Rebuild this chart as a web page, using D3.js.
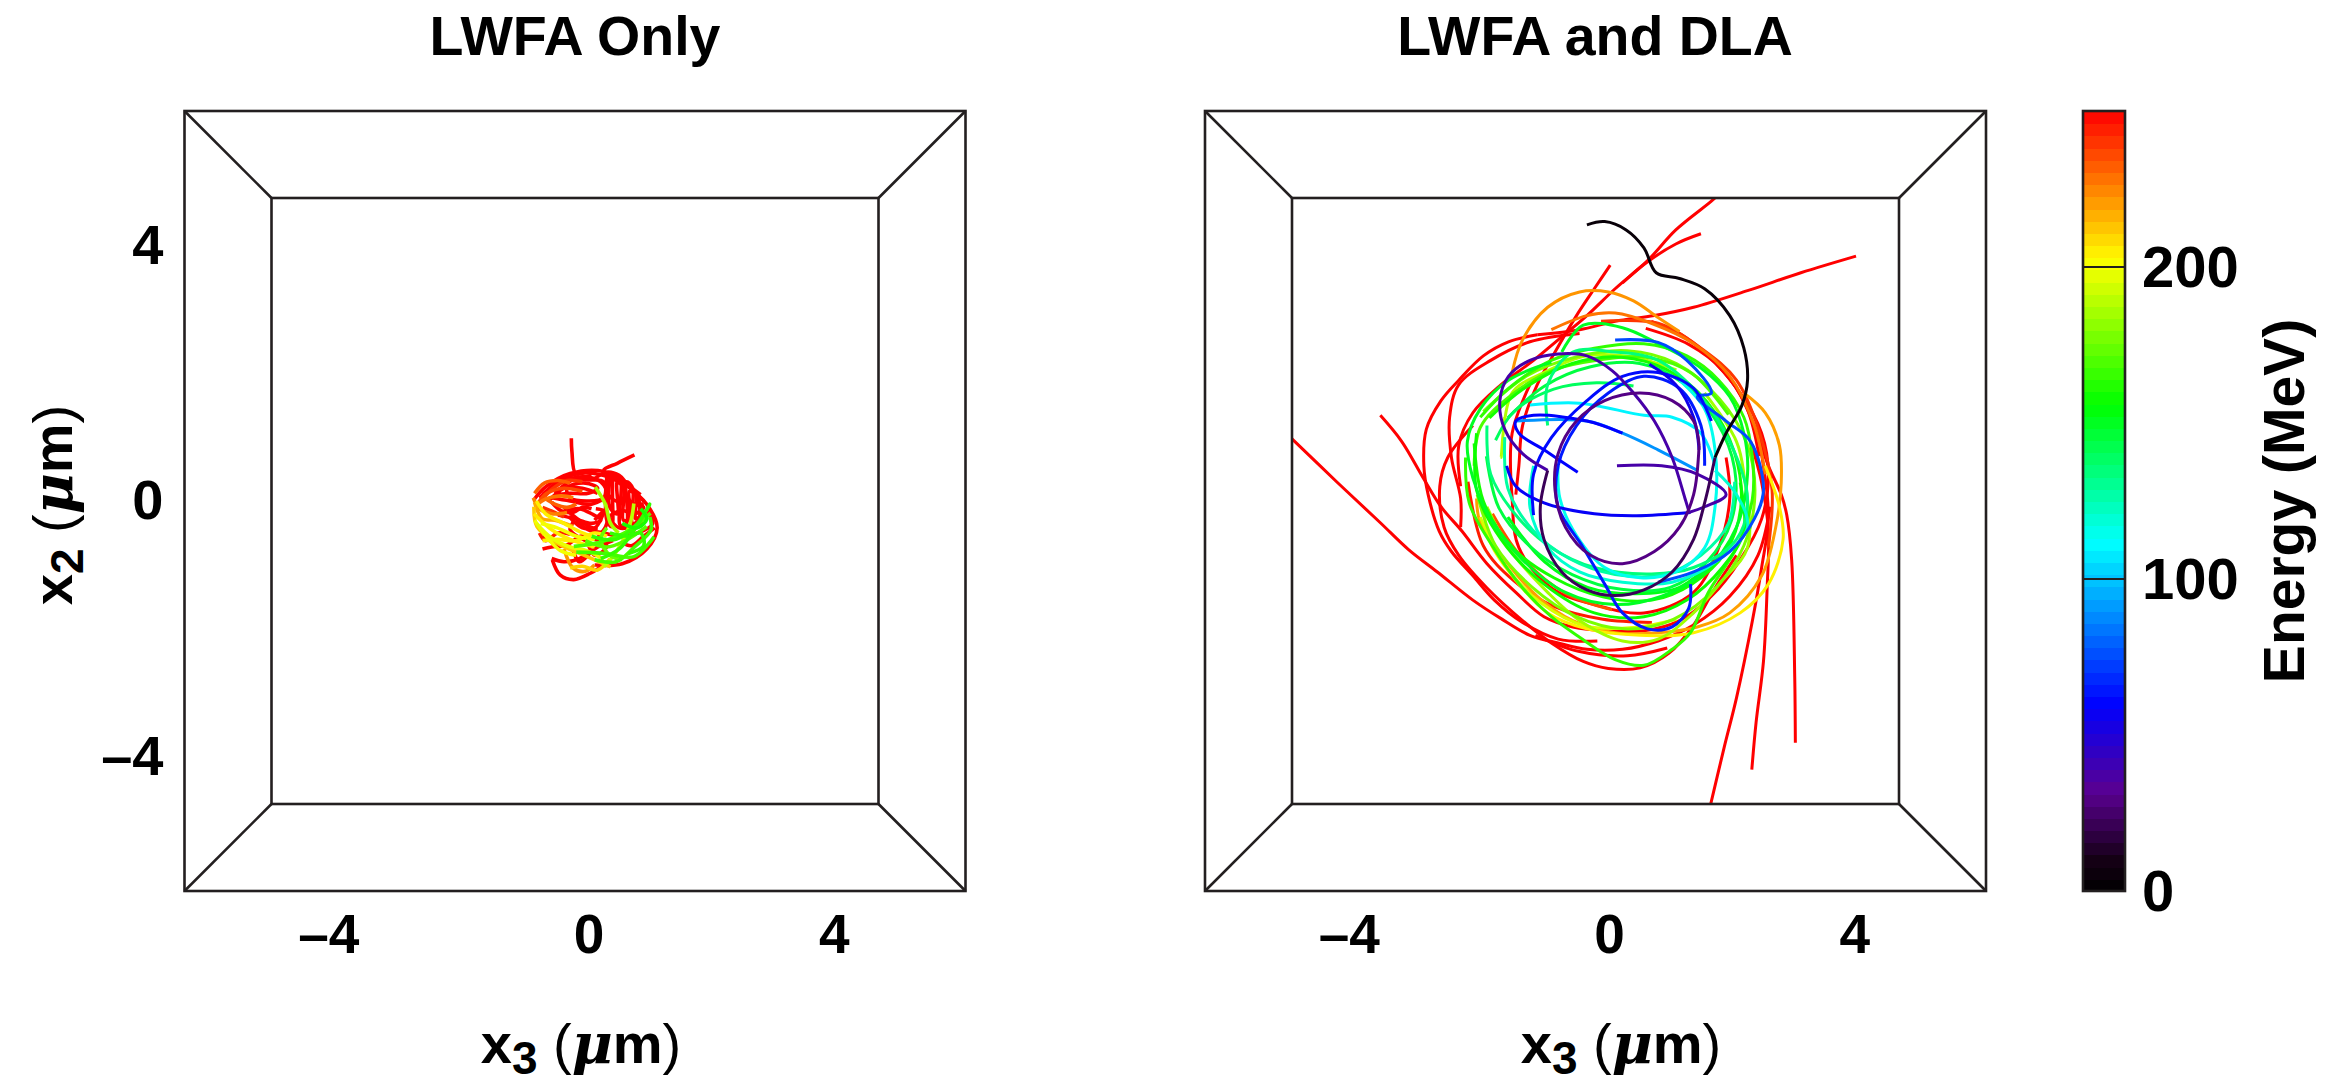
<!DOCTYPE html>
<html>
<head>
<meta charset="utf-8">
<script src="https://cdn.jsdelivr.net/npm/d3@7"></script>
<style>
  html, body { margin: 0; background: #fff; }
  text { font-family: "Liberation Sans", Arial, sans-serif; font-weight: bold; fill: #000; }
</style>
</head>
<body>
<div id="chart"></div>
<script>
var svgWidth = 2329;
var svgHeight = 1083;

// tick labels
var xTicks = [-4, 0, 4];
var yTicks = [4, 0, -4];
var energyTicks = [0, 100, 200];
var panelTitles = ["LWFA Only", "LWFA and DLA"];

// energy (MeV) of each trajectory piece, and its points as [x3, x2] in um
var leftEnergy = [250, 250, 250, 250, 250, 250, 250, 250, 250, 250, 236, 228, 222, 212, 205, 205, 200, 170, 168, 165, 186, 190, 200, 240,
  250, 250, 250, 250, 250, 250, 250, 250, 250, 250, 250, 232, 226, 218, 210, 198, 205, 172, 168, 165, 160, 175, 250, 245, 232, 250, 240];
var leftPoints = [
  [[-.28,.98],[-.27,.77],[-.21,.43],[-.05,.45]],
  [[.75,.72],[.47,.59],[.25,.48],[.55,.3],[.95,-.05],[1.12,-.42],[.95,-.75],[.55,-.98],[.1,-1.0]],
  [[-.89,.02],[-.7,.22],[-.3,.43],[.25,.46],[.6,.26],[.9,.0]],
  [[.3,.4],[.3,-.3],[.38,-.4],[.42,.4],[.52,.35],[.52,-.38],[.62,-.35],[.62,.3],[.72,.2],[.72,-.35],[.82,-.3],[.82,.05]],
  [[-.8,.05],[-.5,.27],[-.1,.38],[.2,.3],[.3,.1],[.05,-.05],[-.3,.0],[-.6,.05]],
  [[-.65,.0],[-.4,.2],[-.05,.28],[.15,.2],[.0,.12],[-.3,.12],[-.5,.1]],
  [[-.2,-.3],[.0,-.45],[.25,-.5],[.5,-.55],[.8,-.5],[1.05,-.35],[.95,-.15]],
  [[-.75,-.55],[-.4,-.7],[-.1,-.55],[.1,-.85],[.3,-.7],[.1,-.6]],
  [[-.4,-.1],[-.15,-.3],[.1,-.42],[.25,-.15],[.1,-.3]],
  [[-.59,-.92],[-.46,-1.16],[-.24,-1.23],[.03,-1.13],[.30,-.97]],
  [[-.82,-.03],[-.68,.12],[-.4,.2],[-.1,.15]],
  [[-.86,-.08],[-.72,.02],[-.45,.08],[-.25,.05]],
  [[-.4,-.75],[-.25,-1.05],[-.05,-1.1],[.1,-1.0]],
  [[-.89,-.09],[-.84,-.4],[-.51,-.66],[-.02,-.87],[.36,-1.03]],
  [[-.85,.0],[-.7,-.2],[-.4,-.35],[-.1,-.5],[.05,-.55]],
  [[-.89,-.2],[-.6,-.45],[-.3,-.6],[.1,-.72]],
  [[-.88,-.3],[-.65,-.6],[-.45,-.78],[-.2,-.85]],
  [[-.24,-.71],[.2,-.64],[.68,-.45],[1.01,-.19]],
  [[-.2,-.8],[.28,-.82],[.74,-.87],[1.07,-.56]],
  [[.05,-.55],[.45,-.6],[.8,-.35],[1.0,-.05],[.85,-.3],[.5,-.75],[.2,-.9]],
  [[.11,.22],[.27,-.04],[.36,-.35],[.49,-.5]],
  [[.74,-.04],[.68,-.35],[.47,-.77],[.25,-1.03]],
  [[-.78,-.35],[-.51,-.42],[-.2,-.55],[.1,-.6]],
  [[-.8,-.02],[-.6,.18],[-.35,.32],[-.1,.3]],
  [[-.75,.1],[-.45,.33],[-.1,.44],[.25,.4],[.5,.3]],
  [[-.3,.35],[0,.33],[.25,.3],[.25,.05],[0,.0],[-.3,.05],[-.35,.2],[-.1,.2],[.15,.12]],
  [[.35,.35],[.35,-.1],[.47,-.2],[.47,.3],[.57,.2],[.57,-.3],[.67,-.28],[.67,.15],[.77,.1],[.77,-.28],[.87,-.2],[.87,-.02]],
  [[.32,.1],[.45,.0],[.6,.05],[.75,-.05],[.9,-.1],[.75,-.2],[.55,-.15],[.35,-.25],[.5,-.42],[.9,-.35]],
  [[-.35,-.15],[-.15,-.12],[.05,-.2],[.2,-.3],[.05,-.35],[-.15,-.3],[-.3,-.25],[-.1,-.42],[.15,-.42]],
  [[-.5,-.22],[-.25,-.3],[-.3,-.45],[-.05,-.62]],
  [[-.55,.12],[-.35,.28],[-.2,.35],[.05,.4]],
  [[.12,-.12],[.3,-.18],[.28,-.4],[.15,-.55]],
  [[-.75,-.75],[-.6,-.72],[-.3,-.72],[-.15,-.95],[.1,-.75],[.4,-.62]],
  [[-.6,-.9],[-.4,-.95],[-.15,-.9],[.05,-.75]],
  [[1.08,-.42],[.9,-.55],[.7,-.7],[.55,-.65]],
  [[-.88,.12],[-.72,.28],[-.5,.32],[-.3,.28]],
  [[-.9,.05],[-.8,-.12],[-.6,-.2],[-.35,-.18]],
  [[-.88,-.02],[-.75,-.28],[-.55,-.3],[-.25,-.4]],
  [[-.3,-1.05],[-.1,-1.02],[.15,-1.08],[.35,-.9]],
  [[-.85,-.35],[-.6,-.58],[-.3,-.72],[-.02,-.78],[.25,-.92]],
  [[-.75,-.62],[-.5,-.6],[-.2,-.62],[.1,-.5],[.3,-.55]],
  [[-.05,-.62],[.3,-.72],[.6,-.62],[.95,-.4]],
  [[.1,-.92],[.45,-.95],[.75,-.72],[1.02,-.45],[1.0,-.25]],
  [[.35,-.5],[.65,-.55],[.85,-.5],[.9,-.7],[.65,-.82]],
  [[.55,-.35],[.8,-.42],[.95,-.28],[.85,-.12]],
  [[.3,-.42],[.2,-.6],[.35,-.85],[.55,-.92]],
  [[.1,.35],[.3,.45],[.5,.4],[.65,.25],[.85,.1]],
  [[-.8,-.5],[-.7,-.62],[-.5,-.5],[-.3,-.52]],
  [[-.72,.05],[-.55,-.05],[-.35,-.1],[-.2,-.05]],
  [[-.6,-.02],[-.45,-.15],[-.25,-.18],[-.1,-.1],[.05,-.12]],
  [[-.75,-.1],[-.55,-.18],[-.4,-.25]]
];

var rightEnergy = [250, 250, 250, 250, 250, 250, 250, 250, 250, 250, 250, 250, 250, 240, 228, 222, 220, 205, 188, 185, 165, 158, 150, 135, 120, 115, 110, 90, 75, 65, 62, 60, 58, 55, 38, 30, 38, 22, 4,
  160, 145, 178, 128, 195, 245, 250, 250, 235, 170, 140, 152];
var rightPoints = [
  [[-5.2,1.0],[-4.43,.29],[-3.73,-.34],[-3.27,-.76],[-2.80,-1.11],[-2.22,-1.55],[-1.76,-1.84],[-1.29,-2.10],[-.83,-2.22],[-.36,-2.32],[.22,-2.32],[.80,-2.19],[1.38,-1.94],[1.97,-1.49],[2.43,-.85],[2.63,-.09]],
  [[-3.73,1.34],[-3.38,.93],[-3.03,.36],[-2.74,-.09],[-2.40,-.47],[-1.99,-.98],[-1.52,-1.43],[-1.06,-1.81],[-.59,-1.97],[-.01,-2.03],[.57,-2.03],[1.15,-1.87],[1.67,-1.49],[2.14,-.92],[2.49,-.28],[2.60,.42],[2.49,1.06],[2.14,1.69],[1.56,2.33],[1.15,2.62],[.69,2.81]],
  [[-1.17,2.60],[-1.64,2.49],[-2.05,2.27],[-2.45,1.89],[-2.74,1.57],[-2.98,1.12],[-3.02,.55],[-2.95,.10],[-2.77,-.47],[-2.57,-.79],[-2.22,-1.17],[-1.87,-1.55],[-1.41,-1.90],[-.83,-2.16],[-.19,-2.19]],
  [[-.48,2.62],[-1.29,2.49],[-1.93,2.20],[-2.45,1.82],[-2.60,1.31],[-2.57,.68],[-2.42,.04],[-2.42,-.41]],
  [[-2.22,1.18],[-2.63,.68],[-2.76,.23],[-2.69,-.41],[-2.45,-.85],[-1.99,-1.36],[-1.41,-1.87],[-.94,-2.22],[-.42,-2.51],[-.01,-2.62],[.51,-2.61],[.98,-2.38],[1.38,-1.94],[1.73,-1.36],[2.08,-.85]],
  [[1.85,4.85],[1.67,4.69],[1.09,4.24],[.63,3.76],[.10,3.32],[-.36,2.90],[-.83,2.52],[-1.23,2.20],[-1.76,1.82],[-2.22,1.38],[-2.45,.87],[-2.42,.23]],
  [[1.50,4.18],[1.09,4.02],[.57,3.70],[.22,3.41]],
  [[.02,3.69],[-.24,3.32],[-.53,2.90],[-.88,2.33],[-1.17,1.82],[-1.41,1.18],[-1.47,.55],[-1.52,.10]],
  [[4.03,3.83],[3.13,3.57],[2.26,3.29],[1.38,3.03],[.74,2.90],[.10,2.81],[-.48,2.68],[-1.17,2.60]],
  [[3.04,-3.78],[3.03,-2.76],[2.98,-.92],[2.90,-.22],[2.81,.10],[2.60,.55],[2.37,1.18],[2.08,1.76],[1.56,2.33]],
  [[2.33,-4.20],[2.40,-3.46],[2.52,-2.51],[2.58,-1.36],[2.60,-.47],[2.49,.29],[2.31,.93]],
  [[1.62,-4.9],[1.88,-3.85],[2.08,-3.08],[2.34,-1.87],[2.49,-1.04],[2.60,-.22],[2.43,1.06]],
  [[-1.29,1.82],[-1.58,1.06],[-1.58,.04],[-1.47,-.73],[-.94,-1.36],[-.24,-1.62],[.57,-1.75],[1.38,-1.43],[1.79,-.73],[1.97,.04],[1.91,.68]],
  [[-.13,2.81],[.80,2.78],[1.50,2.39],[2.08,1.89],[2.46,1.06],[2.66,.17],[2.60,-.73]],
  [[-.94,2.68],[-.36,2.90],[.10,2.94],[.69,2.78],[1.38,2.46],[1.97,1.95],[2.37,1.18],[2.55,.42]],
  [[-1.58,2.01],[-1.41,2.52],[-1.0,3.03],[-.48,3.27],[-.01,3.27],[.40,3.13],[.80,2.87],[1.15,2.65]],
  [[2.20,1.69],[2.55,1.38],[2.78,.87],[2.81,.29],[2.72,-.41],[2.49,-1.17],[1.97,-1.75],[1.44,-1.97],[.80,-2.06],[.10,-2.06],[-.59,-1.87],[-1.17,-1.49],[-1.70,-.92],[-2.10,-.34],[-2.16,.04]],
  [[2.55,.55],[2.78,-.09],[2.84,-.60],[2.60,-1.30],[2.14,-1.75],[1.38,-2.06],[.51,-2.10],[-.36,-2.0],[-1.0,-1.75],[-1.52,-1.24],[-1.93,-.66],[-2.05,-.09]],
  [[-1.70,1.31],[-1.76,.68],[-1.58,1.69],[-1.06,2.01],[-.36,2.27],[.40,2.25],[1.10,2.05]],
  [[-1.99,-.09],[-1.64,-.73],[-1.0,-1.43],[-.48,-1.87],[.22,-2.19],[.80,-2.16],[1.38,-1.75],[1.85,-1.24],[2.26,-.73],[2.20,.42],[2.08,.93],[1.56,1.69]],
  [[-2.34,.68],[-2.28,-.03],[-1.93,-.66],[-1.41,-1.36],[-.94,-1.81],[-.48,-2.13],[.10,-2.48],[.57,-2.57],[1.03,-2.32],[1.33,-2.06],[1.62,-1.43],[2.08,-.73],[2.34,.04],[2.34,.68],[2.20,1.31],[1.79,1.89],[1.27,2.27],[.57,2.46],[-.24,2.39],[-.94,2.20],[-1.64,1.76],[-2.10,1.31]],
  [[-2.16,1.06],[-2.16,.17],[-1.76,-.60],[-1.06,-1.30],[-.24,-1.75],[.57,-1.81],[1.27,-1.55],[1.85,-1.04],[2.20,-.47],[2.14,.29]],
  [[-.77,2.33],[-.42,2.75],[.22,2.71],[.80,2.46],[1.50,2.08],[1.97,1.63],[2.20,1.06],[2.26,.42],[2.08,-.41],[1.56,-1.11],[.86,-1.49],[.10,-1.62],[-.71,-1.43],[-1.41,-.92],[-1.93,-.28],[-2.22,.36],[-2.31,.93],[-2.10,1.44],[-1.64,1.89],[-.94,2.17]],
  [[-1.99,1.18],[-1.93,.42],[-1.52,-.22],[-.94,-.73],[-.24,-1.04],[.69,-1.14],[1.38,-1.04],[2.08,-.60],[2.26,.04],[1.97,.93],[1.50,1.63],[.80,2.20],[.10,2.33],[-.59,2.33],[-1.0,1.82],[-1.0,1.18]],
  [[-1.23,.55],[-1.29,-.09],[-1.0,-.73],[-.48,-1.11],[.22,-1.27],[1.03,-1.27],[1.79,-.92],[2.26,-.41],[2.08,.10],[1.73,.48]],
  [[-.83,.55],[-.80,.04],[-.53,-.54],[-.07,-1.04],[.51,-1.20],[1.09,-1.11],[1.56,-.73],[1.73,-.09],[1.73,.80],[1.56,1.44],[1.15,1.89]],
  [[-1.29,1.50],[-.48,1.53],[.57,1.34],[1.03,1.31],[1.50,1.06],[1.73,.55]],
  [[-1.52,1.25],[-.36,1.25],[.22,1.06],[.80,.80],[1.44,.48]],
  [[.10,2.52],[.80,2.48],[1.27,2.20],[1.67,1.69],[1.44,1.63],[1.91,1.25],[2.31,.93],[2.52,.17],[2.37,-.28],[1.97,-.79],[1.38,-1.11],[.80,-1.27]],
  [[1.33,-1.30],[1.30,-1.68],[1.03,-1.97],[.63,-2.0],[.22,-1.75],[-.07,-1.30],[-.42,-.73],[-.83,-.09],[-.83,.55],[-.53,1.18],[-.01,1.69],[.57,1.95],[1.15,1.76],[1.50,1.18],[1.56,.55]],
  [[-1.23,-.22],[-1.23,.42],[-.94,.99],[-.36,1.57],[.22,1.95],[.80,2.01],[1.38,1.76],[1.67,1.25]],
  [[-.51,.45],[-1.06,.80],[-1.47,1.06],[-1.52,1.25],[-1.23,1.34],[-.36,1.25],[.22,1.06]],
  [[-1.67,.55],[-1.52,.23],[-1.06,-.03],[-.24,-.20],[.45,-.23],[1.33,-.18]],
  [[.66,2.14],[1.09,1.82],[1.38,1.31],[1.47,.80]],
  [[.13,.55],[.86,.55],[1.44,.42],[1.91,.10],[1.56,-.09],[1.30,-.18]],
  [[1.47,.87],[1.38,1.25],[1.03,1.57],[.51,1.69],[-.07,1.57],[-.53,1.25],[-.83,.74],[-.88,.17],[-.71,-.41],[-.30,-.85],[.22,-.98],[.74,-.79],[1.15,-.41],[1.38,.10],[1.47,.87]],
  [[-1.0,.48],[-1.41,.74],[-1.70,1.12],[-1.78,1.57],[-1.64,1.95],[-1.29,2.20],[-.83,2.30],[-.36,2.27],[.05,2.04],[.40,1.69],[.74,1.25],[1.03,.68],[1.24,.04],[1.30,-.15]],
  [[1.73,.68],[1.56,-.03],[1.38,-.60],[1.03,-1.11],[.57,-1.39],[.10,-1.48],[-.36,-1.39],[-.77,-1.11],[-1.06,-.60],[-1.12,-.09],[-1.0,.48]],
  [[-.36,4.32],[-.07,4.37],[.28,4.24],[.57,3.96],[.77,3.57],[1.15,3.48],[1.56,3.32],[1.97,2.90],[2.20,2.39],[2.26,1.89],[2.17,1.50],[1.91,1.06],[1.73,.68]],
  [[-2.2,.9],[-2.05,.0],[-1.55,-.75],[-.9,-1.2],[-.1,-1.5],[.7,-1.55],[1.35,-1.3],[1.9,-.8],[2.15,-.1],[2.05,.75],[1.6,1.55],[.95,2.05],[.2,2.25],[-.6,2.15],[-1.4,1.75],[-1.95,1.3]],
  [[-2.0,.7],[-1.8,-.1],[-1.3,-.7],[-.6,-1.15],[.2,-1.38],[1.0,-1.35],[1.6,-.95],[2.0,-.3],[2.05,.5],[1.75,1.25],[1.2,1.85],[.5,2.15],[-.3,2.1],[-1.05,1.8],[-1.65,1.3]],
  [[-2.05,1.4],[-1.35,1.95],[-.55,2.25],[.3,2.35],[1.1,2.15],[1.8,1.6],[2.25,.9],[2.38,.1],[2.2,-.7],[1.75,-1.35],[1.05,-1.85],[.25,-2.0],[-.55,-1.8],[-1.25,-1.35],[-1.85,-.7],[-2.15,.1]],
  [[-1.7,1.0],[-1.65,.2],[-1.25,-.45],[-.65,-.9],[.1,-1.15],[.9,-1.15],[1.5,-.85],[1.95,-.35],[2.05,.3]],
  [[-2.1,-.25],[-1.7,-1.0],[-1.1,-1.6],[-.4,-1.95],[.4,-1.98],[1.1,-1.85]],
  [[-2.3,.3],[-2.05,-.7],[-1.55,-1.25],[-.9,-1.65],[-.1,-1.85],[.7,-1.9]],
  [[-1.2,-2.1],[-.5,-2.35],[.3,-2.42],[.95,-2.3]],
  [[.6,2.7],[1.3,2.45],[1.85,2.05],[2.25,1.45],[2.45,.7]],
  [[-1.9,-.2],[-1.45,-.85],[-.7,-1.45],[.05,-1.7]],
  [[-2.2,.55],[-2.1,1.15],[-1.6,1.65],[-.9,2.05],[-.2,2.2],[.6,2.25],[1.35,2.0],[1.95,1.35]],
  [[-1.85,.95],[-1.55,1.4],[-.9,1.75],[-.2,1.85],[.4,1.8]],
  [[-1.65,-.25],[-1.05,-.95],[-.35,-1.35],[.45,-1.45],[1.15,-1.35],[1.7,-.95]]
];

var panels = [
  { left: 184.5, clip: "clipLeft", energy: leftEnergy, points: leftPoints, yAxis: true },
  { left: 1205, clip: "clipRight", energy: rightEnergy, points: rightPoints, yAxis: false }
];

var frameW = 781;
var frameTop = 111;
var frameBottom = 891;
var depthX = 87;
var depthY = 87;

var svg = d3.select("#chart")
  .append("svg")
  .attr("width", svgWidth)
  .attr("height", svgHeight)
  .style("display", "block");

// black -> purple -> blue -> cyan -> green -> yellow -> red, as on the colour bar
var energyColor = d3.scaleLinear()
  .domain([0, 10, 32, 60, 112, 156, 202, 250])
  .range(["#000000", "#140014", "#5a0090", "#0000ff", "#00ffff", "#00ff00", "#ffff00", "#ff0000"]);

var line = d3.line().curve(d3.curveCatmullRom.alpha(0.5));

function addAxisLabel(el, sub) {
  el.append("tspan").text("x");
  el.append("tspan").attr("font-size", 46).attr("dy", 11).text(sub);
  el.append("tspan").attr("dy", -11).style("font-weight", "normal").text(" (");
  el.append("tspan").style("font-family", "'DejaVu Serif'").style("font-style", "italic").text("\u03bc");
  el.append("tspan").text("m");
  el.append("tspan").style("font-weight", "normal").text(")");
}

panels.forEach(function(p, i) {
  var x = d3.scaleLinear().domain([-6.59, 6.15]).range([p.left, p.left + frameW]);
  var y = d3.scaleLinear().domain([-6.1, 6.1]).range([frameBottom, frameTop]);
  line.x(d => x(d[0])).y(d => y(d[1]));

  var g = svg.append("g");

  // trajectories stop at the back wall of the box
  g.append("clipPath").attr("id", p.clip)
    .append("rect")
    .attr("x", p.left + depthX)
    .attr("y", frameTop + depthY)
    .attr("width", frameW - 2 * depthX)
    .attr("height", frameBottom - frameTop - 2 * depthY);

  // low energy ends up on top
  var order = d3.range(p.points.length).sort((a, b) => p.energy[b] - p.energy[a]);

  g.append("g")
    .attr("clip-path", `url(#${p.clip})`)
    .selectAll("path")
    .data(order)
    .enter()
    .append("path")
    .attr("d", k => line(p.points[k]))
    .attr("fill", "none")
    .attr("stroke", k => energyColor(p.energy[k]))
    .attr("stroke-width", i == 0 ? 3.6 : 3)
    .attr("stroke-linejoin", "round");

  // box drawn as outer frame, back wall and corner edges
  var box = g.append("g").attr("fill", "none").attr("stroke", "#231f20").attr("stroke-width", 2.6);
  box.append("rect").attr("x", p.left).attr("y", frameTop).attr("width", frameW).attr("height", frameBottom - frameTop);
  box.append("rect").attr("x", p.left + depthX).attr("y", frameTop + depthY)
    .attr("width", frameW - 2 * depthX).attr("height", frameBottom - frameTop - 2 * depthY);
  [[0, 0], [1, 0], [0, 1], [1, 1]].forEach(function(c) {
    box.append("line")
      .attr("x1", p.left + c[0] * frameW)
      .attr("y1", frameTop + c[1] * (frameBottom - frameTop))
      .attr("x2", p.left + depthX + c[0] * (frameW - 2 * depthX))
      .attr("y2", frameTop + depthY + c[1] * (frameBottom - frameTop - 2 * depthY));
  });

  // axes: labels only
  var bottomAxis = d3.axisBottom(x).tickValues(xTicks).tickSize(0).tickPadding(23)
    .tickFormat(d => d < 0 ? "\u2013" + Math.abs(d) : d);
  var xAxis = g.append("g").attr("transform", `translate(0, ${frameBottom})`).call(bottomAxis);
  xAxis.select(".domain").remove();
  xAxis.selectAll("text")
    .attr("font-size", 55)
    .attr("dx", d => d < 0 ? -15 : 0);

  if (p.yAxis) {
    var leftAxis = d3.axisLeft(y).tickValues(yTicks).tickSize(0).tickPadding(21)
      .tickFormat(d => d < 0 ? "\u2013" + Math.abs(d) : d);
    var yAxis = g.append("g").attr("transform", `translate(${p.left}, 0)`).call(leftAxis);
    yAxis.select(".domain").remove();
    yAxis.selectAll("text").attr("font-size", 56);
  }

  g.append("text")
    .attr("x", [575, 1595][i])
    .attr("y", 55)
    .attr("text-anchor", "middle")
    .attr("font-size", 55.5)
    .text(panelTitles[i]);

  // x3 label
  var xl = g.append("text")
    .attr("x", [581, 1621][i])
    .attr("y", 1063)
    .attr("text-anchor", "middle")
    .attr("font-size", 56);
  addAxisLabel(xl, "3");
});

// x2 label
var yl = svg.append("text")
  .attr("transform", "translate(72, 505) rotate(-90)")
  .attr("text-anchor", "middle")
  .attr("font-size", 56);
addAxisLabel(yl, "2");

// colour bar
var barX = 2083;
var barW = 42;
var barScale = d3.scaleLinear().domain([0, 250]).range([frameBottom, frameTop]);
var bands = d3.range(0, 250, 250 / 64);

svg.append("g")
  .attr("shape-rendering", "crispEdges")
  .selectAll("rect")
  .data(bands)
  .enter()
  .append("rect")
  .attr("x", barX)
  .attr("y", d => barScale(d + 250 / 64))
  .attr("width", barW)
  .attr("height", barScale(0) - barScale(250 / 64) + 1)
  .attr("fill", d => energyColor(d + 125 / 64));

svg.append("g")
  .selectAll("line")
  .data(energyTicks.slice(1))
  .enter()
  .append("line")
  .attr("x1", barX)
  .attr("x2", barX + barW)
  .attr("y1", d => barScale(d))
  .attr("y2", d => barScale(d))
  .attr("stroke", "#231f20")
  .attr("stroke-width", 2);

svg.append("rect")
  .attr("x", barX)
  .attr("y", frameTop)
  .attr("width", barW)
  .attr("height", frameBottom - frameTop)
  .attr("fill", "none")
  .attr("stroke", "#231f20")
  .attr("stroke-width", 2.6);

var rightAxis = d3.axisRight(barScale).tickValues(energyTicks).tickSize(0).tickPadding(17);
var barAxis = svg.append("g").attr("transform", `translate(${barX + barW}, 0)`).call(rightAxis);
barAxis.select(".domain").remove();
barAxis.selectAll("text").attr("font-size", 58).attr("dy", "0.34em");

svg.append("text")
  .attr("transform", "translate(2304, 501) rotate(-90)")
  .attr("text-anchor", "middle")
  .attr("font-size", 57)
  .text("Energy (MeV)");
</script>
</body>
</html>
